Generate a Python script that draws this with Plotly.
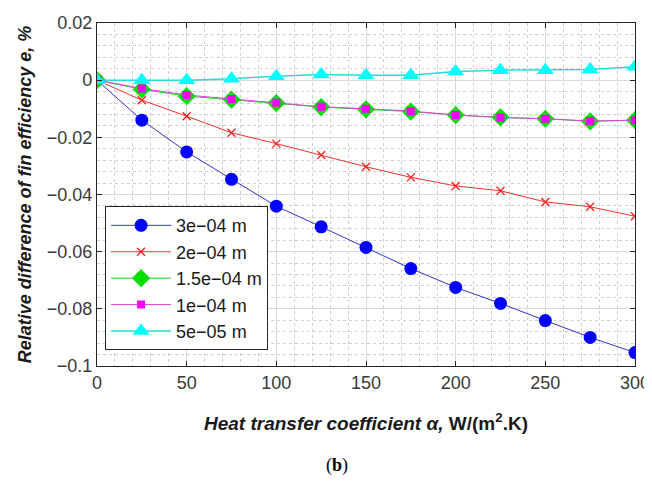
import plotly.graph_objects as go

alpha = [0, 25, 50, 75, 100, 125, 150, 175, 200, 225, 250, 275, 300]
labels = ["3e\u221204 m", "2e\u221204 m", "1.5e\u221204 m", "1e\u221204 m", "5e\u221205 m"]
e_300 = [0, -0.014, -0.0251, -0.0347, -0.0441, -0.0513, -0.0585, -0.0659, -0.0725, -0.0781, -0.0841, -0.0900, -0.0953]
e_200 = [0, -0.0070, -0.0126, -0.0184, -0.0222, -0.0262, -0.0303, -0.0340, -0.0370, -0.0387, -0.0426, -0.0443, -0.0476]
e_150 = [0, -0.0032, -0.0056, -0.0068, -0.0080, -0.0094, -0.0102, -0.0110, -0.0122, -0.0130, -0.0135, -0.0144, -0.0140]
e_100 = [0, -0.0029, -0.0052, -0.0066, -0.0079, -0.0093, -0.0100, -0.0108, -0.0122, -0.0131, -0.0135, -0.0143, -0.0140]
e_050 = [0, 0.0000, 0.0000, 0.0005, 0.0014, 0.0020, 0.0017, 0.0017, 0.0030, 0.0035, 0.0035, 0.0037, 0.0047]

series = [e_300, e_200, e_150, e_100, e_050]
colors = ["#0000ff", "#ff2020", "#00e000", "#ff00ff", "#00ffff"]
line_colors = ["#3333cc", "#ee3333", "#22cc22", "#dd44dd", "#22dddd"]
symbols = ["circle", "x-thin", "diamond", "square", "triangle-up"]
sizes = [13, 8, 14, 8, 15]
widths = [1, 1, 1, 1, 1.5]

fig = go.Figure()
for ys, name, c, lc, s, sz, w in zip(series, labels, colors, line_colors, symbols, sizes, widths):
    mk = dict(symbol=s, size=sz, color=c)
    if s == "x-thin":
        mk["line"] = dict(color=c, width=1.3)
    else:
        mk["line"] = dict(width=0)
    fig.add_trace(go.Scatter(x=alpha, y=ys, name=name, mode="lines+markers",
                             line=dict(color=lc, width=w), marker=mk))

FONT = "Liberation Sans, Arial"
axis_common = dict(
    showgrid=True, gridcolor="#d9d9d9", gridwidth=1,
    showline=True, linecolor="#262626", linewidth=1.2, mirror="ticks",
    ticks="inside", ticklen=5, tickcolor="#262626",
    tickfont=dict(family=FONT, size=18, color="#3a3a3a"),
    zeroline=False, automargin=False,
)
fig.update_xaxes(range=[0, 300], dtick=50, tick0=0,
                 minor=dict(dtick=10, showgrid=True, gridcolor="#d0d0d0", griddash="dot", gridwidth=1),
                 title=dict(text="<b><i>Heat transfer coefficient \u03b1,</i> W/(m<sup>2</sup>.K)</b>",
                            font=dict(family=FONT, size=19, color="#1a1a1a"), standoff=24),
                 **axis_common)
fig.update_yaxes(range=[-0.1, 0.02], dtick=0.02, tick0=0,
                 minor=dict(dtick=0.004, showgrid=True, gridcolor="#d0d0d0", griddash="dot", gridwidth=1),
                 title=dict(text="<b><i>Relative difference of fin efficiency e, %</i></b>",
                            font=dict(family=FONT, size=18, color="#1a1a1a"), standoff=10),
                 **axis_common)

fig.add_annotation(text="(<b>b</b>)", xref="paper", yref="paper", x=0.447, y=-0.326,
                   showarrow=False, font=dict(family="Liberation Serif, Times New Roman", size=18, color="#000"))

fig.update_layout(
    width=644, height=480,
    margin=dict(l=89, r=17, t=15, b=122),
    paper_bgcolor="white", plot_bgcolor="white",
    showlegend=True,
    legend=dict(x=0.015, y=0.466, xanchor="left", yanchor="top",
                bgcolor="white", bordercolor="#262626", borderwidth=1,
                font=dict(family=FONT, size=18, color="#1a1a1a"),
                tracegroupgap=0, itemwidth=60),
)
fig.write_html("out.html")
